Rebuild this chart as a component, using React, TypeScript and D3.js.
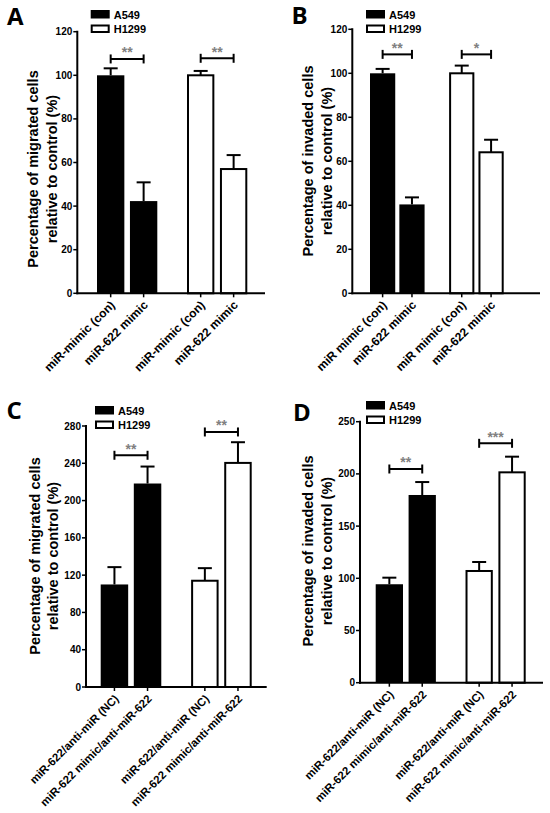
import React from "react";
import * as d3 from "d3";

// ---------- data ----------
const groups = ["A549", "H1299"];
const treatmentsA = ["miR-mimic (con)", "miR-622 mimic"];
const treatmentsB = ["miR mimic (con)", "miR-622 mimic"];
const treatmentsCD = ["miR-622/anti-miR (NC)", "miR-622 mimic/anti-miR-622"];

const meanA = [100, 42.3, 100, 57];
const semA = [3.2, 8.6, 2, 6.4];
const meanB = [100, 40.4, 100, 64.1];
const semB = [2, 3.2, 3.5, 5.7];
const meanC = [110, 218.3, 114, 240.4];
const semC = [18.6, 18.2, 13.5, 22.2];
const meanD = [94.3, 179.8, 107, 201.5];
const semD = [6.3, 12.4, 8.6, 15];

const bracketA = [107.5, 107.8];
const bracketB = [108.6, 108.6];
const bracketC = [248.6, 273.6];
const bracketD = [204.7, 229.3];
const starsA = ["**", "**"];
const starsB = ["**", "*"];
const starsC = ["**", "**"];
const starsD = ["**", "***"];

const ticksA = [0, 20, 40, 60, 80, 100, 120];
const ticksB = [0, 20, 40, 60, 80, 100, 120];
const ticksC = [0, 40, 80, 120, 160, 200, 240, 280];
const ticksD = [0, 50, 100, 150, 200, 250];

const yLabelA = ["Percentage of migrated cells", "relative to control (%)"];
const yLabelB = ["Percentage of invaded cells", "relative to control (%)"];
const yLabelC = ["Percentage of migrated cells", "relative to control (%)"];
const yLabelD = ["Percentage of invaded cells", "relative to control (%)"];

const letters = ["A", "B", "C", "D"];

// ---------- layout ----------
type Layout = {
  axisX: number; y0: number; yTopPx: number; axisEnd: number;
  barStart: number; barEnd: number; groupPad: number; innerPad: number;
  labelX: [number, number]; labelY: number; xFont: number;
  legendX: number; legendY: number; letterX: number; letterY: number;
};

const layouts: Layout[] = [
  { axisX: 77.3, y0: 293.3, yTopPx: 31.7, axisEnd: 265, barStart: 97, barEnd: 247.3, groupPad: 0.33, innerPad: 0.17,
    labelX: [33, 52], labelY: 169, xFont: 12, legendX: 90.7, legendY: 10, letterX: 7, letterY: 25 },
  { axisX: 352.3, y0: 293.3, yTopPx: 29.3, axisEnd: 540, barStart: 370, barEnd: 503.7, groupPad: 0.31, innerPad: 0.14,
    labelX: [308, 326.7], labelY: 161, xFont: 12, legendX: 366, legendY: 10, letterX: 291.5, letterY: 23.5 },
  { axisX: 86, y0: 687, yTopPx: 426, axisEnd: 266.7, barStart: 100.7, barEnd: 251.7, groupPad: 0.33, innerPad: 0.17,
    labelX: [35, 53], labelY: 556, xFont: 11.4, legendX: 95, legendY: 406, letterX: 6.5, letterY: 418.5 },
  { axisX: 360, y0: 682.7, yTopPx: 421.7, axisEnd: 543, barStart: 375.7, barEnd: 525.7, groupPad: 0.33, innerPad: 0.17,
    labelX: [308, 327], labelY: 551, xFont: 11.4, legendX: 366, legendY: 401, letterX: 293, letterY: 420.5 },
];

const panels = [
  { mean: meanA, sem: semA, treatments: treatmentsA, brackets: bracketA, stars: starsA, ticks: ticksA, yLabel: yLabelA },
  { mean: meanB, sem: semB, treatments: treatmentsB, brackets: bracketB, stars: starsB, ticks: ticksB, yLabel: yLabelB },
  { mean: meanC, sem: semC, treatments: treatmentsCD, brackets: bracketC, stars: starsC, ticks: ticksC, yLabel: yLabelC },
  { mean: meanD, sem: semD, treatments: treatmentsCD, brackets: bracketD, stars: starsD, ticks: ticksD, yLabel: yLabelD },
];

const FONT = "'Liberation Sans', Arial, sans-serif";

function Panel({ idx }: { idx: number }) {
  const L = layouts[idx];
  const P = panels[idx];
  const yMax = P.ticks[P.ticks.length - 1];
  const y = d3.scaleLinear().domain([0, yMax]).range([L.y0, L.yTopPx]);
  const gx = d3.scaleBand<string>().domain(groups).range([L.barStart, L.barEnd]).paddingInner(L.groupPad).paddingOuter(0);
  const ix = d3.scaleBand<string>().domain(P.treatments).range([0, gx.bandwidth()]).paddingInner(L.innerPad).paddingOuter(0);
  const bw = ix.bandwidth();
  const bars = groups.flatMap((g, gi) =>
    P.treatments.map((t, ti) => {
      const k = gi * 2 + ti;
      const x = (gx(g) as number) + (ix(t) as number);
      return { g, gi, t, x, cx: x + bw / 2, m: P.mean[k], s: P.sem[k] };
    })
  );
  const capW = 14;
  return (
    <g>
      <text x={L.letterX} y={L.letterY} fontFamily="'Open Sans', sans-serif" fontWeight={700} fontSize={24}>{letters[idx]}</text>
      {/* legend */}
      {groups.map((g, gi) => (
        <g key={g}>
          <rect x={L.legendX + 1} y={L.legendY + gi * 14.5 + 1} width={17} height={6.5}
            fill={gi === 0 ? "#000" : "#fff"} stroke="#000" strokeWidth={2} />
          <text x={L.legendX + 23} y={L.legendY + gi * 14.5 + 8.5} fontFamily={FONT} fontWeight={700} fontSize={11}>{g}</text>
        </g>
      ))}
      {/* bars */}
      {bars.map((b, i) => (
        <g key={i}>
          <line x1={b.cx} x2={b.cx} y1={y(b.m)} y2={y(b.m + b.s)} stroke="#000" strokeWidth={2} />
          <line x1={b.cx - capW / 2} x2={b.cx + capW / 2} y1={y(b.m + b.s)} y2={y(b.m + b.s)} stroke="#000" strokeWidth={2} />
          {b.gi === 0 ? (
            <rect x={b.x} y={y(b.m)} width={bw} height={L.y0 - y(b.m)} fill="#000" />
          ) : (
            <rect x={b.x + 1} y={y(b.m)} width={bw - 2} height={L.y0 - y(b.m)} fill="#fff" stroke="#000" strokeWidth={2} />
          )}
        </g>
      ))}
      {/* brackets */}
      {groups.map((g, gi) => {
        const x1 = bars[gi * 2].cx;
        const x2 = bars[gi * 2 + 1].cx;
        const yy = y(P.brackets[gi]);
        return (
          <g key={"br" + gi}>
            <line x1={x1} x2={x2} y1={yy} y2={yy} stroke="#000" strokeWidth={2} />
            <line x1={x1} x2={x1} y1={yy - 4.5} y2={yy + 4.5} stroke="#000" strokeWidth={2} />
            <line x1={x2} x2={x2} y1={yy - 4.5} y2={yy + 4.5} stroke="#000" strokeWidth={2} />
            <text x={(x1 + x2) / 2} y={yy - 1.5} textAnchor="middle" fontFamily={FONT} fontWeight={700} fontSize={14} fill="#808080">{P.stars[gi]}</text>
          </g>
        );
      })}
      {/* y axis */}
      <line x1={L.axisX} x2={L.axisX} y1={y(yMax) - 1} y2={L.y0 + 1} stroke="#000" strokeWidth={2} />
      {P.ticks.map((t) => (
        <g key={"t" + t}>
          <line x1={L.axisX - 4} x2={L.axisX} y1={y(t)} y2={y(t)} stroke="#000" strokeWidth={1.5} />
          <text x={L.axisX - 5} y={y(t)} dy="0.35em" textAnchor="end" fontFamily={FONT} fontWeight={700} fontSize={10}>{t}</text>
        </g>
      ))}
      {/* x axis */}
      <line x1={L.axisX - 1} x2={L.axisEnd} y1={L.y0} y2={L.y0} stroke="#000" strokeWidth={2} />
      {bars.map((b, i) => (
        <g key={"x" + i}>
          <line x1={b.cx} x2={b.cx} y1={L.y0} y2={L.y0 + 4} stroke="#000" strokeWidth={1.5} />
          <text transform={`translate(${b.cx + 5},${L.y0 + 12.5}) rotate(-45)`} textAnchor="end"
            fontFamily={FONT} fontWeight={700} fontSize={L.xFont}>{b.t}</text>
        </g>
      ))}
      {/* y label */}
      {P.yLabel.map((s, li) => (
        <text key={"yl" + li} transform={`translate(${L.labelX[li]},${L.labelY}) rotate(-90)`} dy="0.35em"
          textAnchor="middle" fontFamily={FONT} fontWeight={700} fontSize={14.5}>{s}</text>
      ))}
    </g>
  );
}

export default function App() {
  return (
    <svg width={550} height={813} style={{ position: "absolute", left: 0, top: 0, background: "#fff" }}>
      <rect width={550} height={813} fill="#fff" />
      {[0, 1, 2, 3].map((i) => <Panel key={i} idx={i} />)}
    </svg>
  );
}
